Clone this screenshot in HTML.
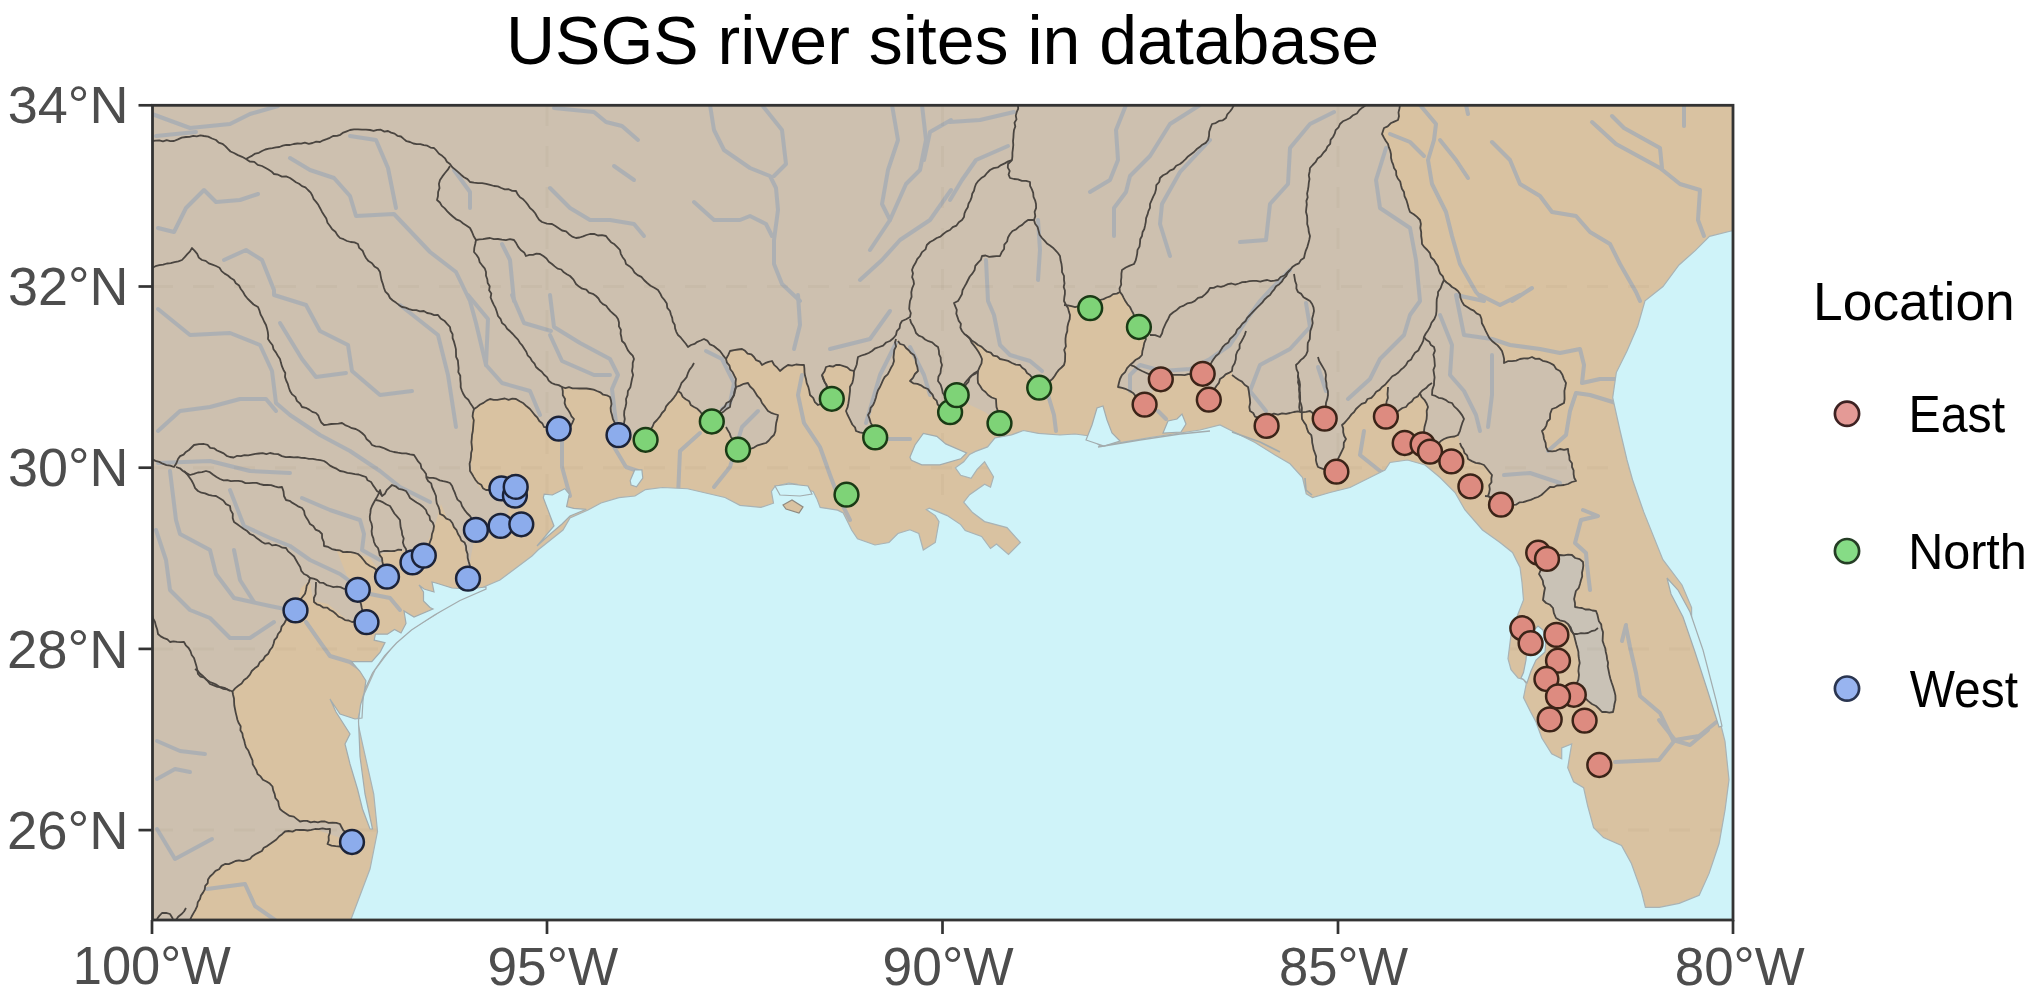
<!DOCTYPE html>
<html><head><meta charset="utf-8">
<style>
html,body{margin:0;padding:0;background:#fff;}
body{width:2042px;height:1004px;overflow:hidden;}
svg{display:block;}
text{font-family:"Liberation Sans",sans-serif;}
</style></head>
<body>
<svg width="2042" height="1004" viewBox="0 0 2042 1004">
<defs><clipPath id="pc"><rect x="152" y="105" width="1581" height="815"/></clipPath></defs>
<rect x="0" y="0" width="2042" height="1004" fill="#fff"/>
<text x="511" y="63" font-size="68" fill="#000" transform="translate(-5.00,1.20) scale(1.0000,1.0000)">USGS river sites in database</text>
<g clip-path="url(#pc)">
<rect x="152" y="105" width="1581" height="815" fill="#d9c2a1"/>
<path d="M150,104 L1400,104 L1400,108 L1398,120 L1384,128 L1382,134 L1388,144 L1394,168 L1404,192 L1410,212 L1420,220 L1422,244 L1434,260 L1444,280 L1460,294 L1464,305 L1480,315 L1484,327 L1492,341 L1502,351 L1504,363 L1520,359 L1532,357 L1550,363 L1560,371 L1566,383 L1564,403 L1552,409 L1550,419 L1542,431 L1544,439 L1548,451 L1568,449 L1572,467 L1576,481 L1564,485 L1550,487 L1538,497 L1512,505 L1485,496 L1501,505 L1488,496 L1492,475 L1484,465 L1468,459 L1460,443 L1458,435 L1444,439 L1430,451.6 L1422.6,444.3 L1424,431 L1428,407 L1420,393 L1406,407 L1385.9,416.6 L1388,387 L1390,379 L1374,395 L1356,409 L1342,425 L1346,439 L1341,453 L1338,465 L1336.4,471.7 L1318,467 L1311,443 L1309,424 L1324.7,418.6 L1310,411 L1290,413 L1270,415 L1266.6,425.9 L1250,411 L1248,387 L1232,375 L1232,371 L1220,379 L1208.8,399.7 L1202.7,373.8 L1170,375 L1160.8,379.3 L1144.6,404.6 L1130,391 L1118,387 L1120,379 L1130,365 L1142,355 L1146,339 L1139,327 L1130,307 L1120,292 L1100,300 L1090,308 L1066,305 L1070,315 L1066,335 L1064,365 L1050,381 L1039,388 L1030,375 L1020,365 L1000,359 L978,345 L966,335 L970,339 L982,359 L978,371 L970,377 L957,395 L950,412 L940,407 L928,389 L910,381 L918,371 L914,355 L898,341 L896,339 L894,361 L880,387 L868,415 L875,437 L856,431 L846,411 L850,391 L854,371 L840,365 L826,367 L822,375 L831.8,398.8 L818,405 L810,395 L806,379 L804,365 L788,365 L780,371 L772,361 L762,365 L754,357 L742,349 L730,351 L726,359 L736,379 L736,387 L748,383 L762,403 L768,411 L778,415 L774,435 L766,443 L750,449 L738,449.7 L726,427 L711.8,421.5 L694,407 L678,391 L662,413 L654,423 L645.6,440 L618,435 L612,415 L610,397 L590,389 L562,387 L566,407 L574,419 L570,427 L558.7,428.7 L544,427 L530,409 L516,399 L490,399 L478.2,404.8 L471.9,416 L470.3,447.8 L471.9,476.5 L481.4,489.2 L501,488 L507,503.6 L508.5,511.6 L500.6,526 L476,530 L471,556 L468,578 L466,552 L460,536 L447,518 L441,504 L435,525 L428,541 L424,556 L412,562 L404,550 L379,554 L387,577 L376,566 L369,557 L336,549 L347,576 L358,590 L361,604 L366,622 L347,620 L328,604 L313,601 L310,580 L301,588 L295,611 L286,620 L278,634 L270,650 L258,666 L244,680 L233,691 L235,709 L245,744 L257,774 L272,786 L280,809 L300,821 L340,824 L352,842 L315,829 L285,831 L270,844 L250,859 L225,864 L210,876 L200,899 L190,921 L150,921 Z M957,395 L964.5,388 L972,375.5 L978,371 L978,383 L988,395 L996,399 L999.5,423 L985,412 L970,405 Z" fill="#cdc0af"/><path d="M1547,559 L1539,574 L1545,588 L1543,600 L1553,608 L1556,618 L1568,624 L1574,635 L1576.5,645 L1579,659 L1579,675 L1576.5,684 L1585,698 L1596,706 L1602,712 L1613,712 L1615.5,700 L1613,686.5 L1608.5,670 L1604,645 L1601.6,628 L1596,611 L1582,608 L1575,607 L1575,595 L1581,580 L1583,562 L1572,555 L1560,555 L1547,559 Z" fill="#c9c2b6"/>
<g fill="none" stroke="#a6adb5" stroke-width="4" stroke-linejoin="round" stroke-linecap="round" opacity="0.8"><path d="M152,114 L190,128 L230,124 L250,114 L278,106"/><path d="M156,136 L196,132"/><path d="M158,228 L174,232 L186,208 L204,190 L216,202 L240,200 L258,194"/><path d="M290,158 L310,170 L334,178 L350,196 L356,216 L394,214 L430,252 L456,272 L470,301 L476,323 L486,365 L502,383 L530,391 L540,415"/><path d="M350,136 L376,140 L388,168 L396,208"/><path d="M454,170 L470,192 L470,208"/><path d="M224,260 L246,250 L262,260 L274,290 L274,295 L306,305 L320,331 L348,345 L352,371 L380,395 L412,391"/><path d="M502,244 L510,260 L514,301"/><path d="M512,295 L524,323 L551,331"/><path d="M554,108 L594,112 L606,122 L622,126 L638,140"/><path d="M614,166 L634,180"/><path d="M550,188 L570,208 L590,220 L610,220 L634,224 L644,236"/><path d="M710,105 L714,130 L724,150 L750,168 L770,176 L776,188 L778,210 L774,240 L774,264 L782,284 L800,301"/><path d="M762,105 L782,130 L786,164 L774,176"/><path d="M694,202 L714,220 L740,220 L750,216 L766,224 L772,236"/><path d="M892,105 L898,140 L888,170 L882,204 L890,220 L870,250"/><path d="M922,105 L926,140 L920,170 L906,184 L890,220"/><path d="M951,120 L930,132 L924,160"/><path d="M951,190 L930,220 L900,240 L882,260 L860,280"/><path d="M950,122 L980,120 L1014,112"/><path d="M950,200 L962,180 L976,160 L1008,146"/><path d="M1126,105 L1116,130 L1118,160 L1110,180 L1090,192"/><path d="M1200,105 L1170,124 L1150,156 L1130,176 L1126,192 L1114,208 L1114,236"/><path d="M1210,140 L1180,172 L1162,204 L1160,224 L1170,256"/><path d="M1334,112 L1310,124 L1290,148 L1288,184 L1270,204 L1266,240 L1240,242"/><path d="M1038,220 L1040,250 L1038,280"/><path d="M986,260 L988,301 L994,315 L1000,345 L1010,355 L1030,361 L1042,371"/><path d="M1290,270 L1270,290 L1260,301 L1250,315 L1230,345 L1210,359 L1190,369 L1162,371 L1140,365 L1130,375 L1130,391"/><path d="M1420,105 L1436,124 L1434,140 L1428,160 L1432,184 L1446,212 L1452,236 L1460,264 L1476,292 L1484,301 L1456,295 L1460,315 L1464,335 L1492,339 L1510,345 L1540,349 L1560,353 L1580,349 L1584,365 L1582,383 L1600,379 L1616,379"/><path d="M1390,134 L1410,142 L1424,156"/><path d="M1440,140 L1456,160 L1468,178"/><path d="M1466,105 L1468,114"/><path d="M1492,142 L1510,160 L1520,184 L1540,196 L1552,212 L1576,216 L1590,232 L1610,244 L1620,264 L1636,292 L1640,301"/><path d="M1592,122 L1616,144 L1660,168 L1680,184 L1700,190 L1698,220 L1704,236"/><path d="M1612,116 L1624,128 L1660,148 L1662,168"/><path d="M1684,105 L1684,126"/><path d="M1532,288 L1512,301"/><path d="M1386,148 L1376,180 L1380,208 L1410,228 L1416,260 L1420,301 L1410,315 L1404,335 L1380,359 L1370,379 L1348,399"/><path d="M158,309 L190,335 L230,333 L260,345 L272,371 L276,403 L290,415 L320,435 L350,451 L380,471 L400,487 L430,502"/><path d="M158,431 L180,411 L210,407 L240,399 L266,399 L276,411"/><path d="M280,323 L302,359 L316,377 L346,373"/><path d="M400,305 L438,335 L448,375 L456,427"/><path d="M468,295 L488,319 L486,365"/><path d="M158,463 L210,461 L250,471 L290,473"/><path d="M170,471 L176,520 L180,534 L210,550 L216,574 L234,598 L270,606 L290,610"/><path d="M156,530 L166,560 L170,590 L190,610 L210,618 L230,638 L250,638 L274,622"/><path d="M234,550 L240,580 L254,602"/><path d="M230,490 L244,526 L270,538 L290,546 L310,560 L340,574 L355,585"/><path d="M302,498 L330,510 L360,520 L364,534 L362,550 L380,560"/><path d="M306,622 L320,642 L330,656 L350,662 L362,670"/><path d="M370,594 L390,598 L400,610"/><path d="M550,295 L554,327 L580,343 L610,359 L618,375 L612,389 L616,423"/><path d="M550,335 L562,361 L594,375 L610,375"/><path d="M562,435 L562,467 L570,496"/><path d="M614,447 L626,467 L638,471"/><path d="M706,351 L722,359 L734,383 L730,403 L722,409"/><path d="M700,433 L680,451 L678,496"/><path d="M758,411 L742,427 L730,467 L714,487"/><path d="M798,295 L800,325 L794,349"/><path d="M890,311 L870,339 L830,349"/><path d="M802,375 L798,395 L804,423 L820,447 L830,475 L838,496 L850,520"/><path d="M896,343 L880,375 L866,423"/><path d="M888,439 L910,439"/><path d="M910,347 L924,375 L930,395"/><path d="M1048,395 L1054,415 L1056,431"/><path d="M1306,303 L1310,327 L1290,349 L1260,365 L1250,391 L1266,411"/><path d="M1318,367 L1326,391"/><path d="M1158,411 L1166,419"/><path d="M1440,315 L1452,345 L1450,375 L1464,391 L1476,415 L1480,431"/><path d="M1492,355 L1492,395 L1488,427"/><path d="M1504,475 L1530,473 L1560,483"/><path d="M1364,431 L1360,455 L1380,471 L1388,475"/><path d="M1480,295 L1500,305 L1520,295"/><path d="M1616,403 L1590,395 L1576,393 L1570,411 L1566,435 L1548,451"/><path d="M157,741 L180,751 L205,754"/><path d="M157,779 L175,769 L190,772"/><path d="M157,829 L175,859 L212,839"/><path d="M207,889 L245,884 L255,906 L275,920"/><path d="M1583,510 L1598,516 L1581,520 L1575,543 L1586,553 L1587,565 L1590,590"/><path d="M1626,627 L1630,647 L1636,673 L1640,696 L1660,713 L1673,740 L1690,745 L1708,730"/><path d="M1615,762 L1659,760 L1675,740 L1699,736 L1719,720"/><path d="M1675,740 L1659,720"/><path d="M1622,641 L1626,625"/></g>
<g fill="none" stroke="#4a4540" stroke-width="1.8" stroke-linejoin="round"><path d="M152,141 L155.7,140.7 L159.3,140.4 L163,141.3 L166.7,140.2 L170.3,141.1 L174,141 L177.9,139.4 L181.7,137.6 L186,137 L189.6,136.8 L193.2,135.8 L196.8,136.3 L200.4,135.4 L204,136 L208.2,136.6 L212,138.5 L216,140 L218.7,142.6 L222.4,143.8 L225.3,146.1 L227.9,148.9 L230.5,151.5 L234,153 L237.9,155.1 L242.1,156.8 L246,159 L249.7,161.5 L254.3,161.8 L257.7,164.8 L262,166 L265.2,167.7 L268.4,169.5 L271.4,171.4 L274,174 L278.1,174.7 L281.9,176.6 L286.1,176.4 L290,178 L292.9,180.1 L295.9,182.2 L299.1,183.8 L302,186.1 L305.4,187.3 L308,190 L310.7,192.6 L312.4,195.7 L313.7,199.2 L316.1,201.9 L318.3,204.8 L320,208 L321.9,211.7 L324.1,215.2 L326.3,218.6 L327.5,222.7 L330,226 L332.2,229.2 L335.4,231.7 L337.4,235.1 L340,238 L343.6,239.2 L347,241 L350.7,242 L354.5,242.4 L358,244 L359.2,247.9 L362.6,250.7 L364.1,254.4 L366,258 L368.5,261.1 L372,263.2 L374.4,266.4 L377.8,268.6 L380,272 L380.7,276.1 L381.5,280.1 L382.9,284 L384,288 L385.4,291.7 L388.3,294.5 L390,298 L392.8,300.5 L395.9,302.6 L398.9,304.9 L402,307 L405.6,307.7 L409.1,309.2 L412.6,310.2 L416.4,310.2 L419.9,311.3 L423.8,311 L427.1,313 L430.7,313.7 L434.2,315.1 L438,315 L440.6,318.4 L444.3,320.7 L447.1,323.9 L450,327 L450.6,330.8 L452.6,334.2 L452.6,338.1 L454,341.7 L455,345.4 L455.9,349.1 L456,353 L456.1,356.9 L457.9,360.5 L458.2,364.3 L458.6,368.2 L458.3,372.1 L460.3,375.7 L460.3,379.6 L460.7,383.4 L460.7,387.3 L462,391 L463.5,394.3 L465.5,397.4 L468.3,399.8 L470.1,402.9 L472.2,405.9 L474,409 L473,412.7 L472.6,416.4 L473.8,420.2 L473.4,423.9 L473.1,427.6 L472.8,431.3 L472,435 L471.8,438.6 L471.4,442.2 L471.8,445.8 L472.1,449.4 L471.1,453 L471,456.6 L470.5,460.2 L469.6,463.8 L469.9,467.4 L470,471 L472,474 L473.8,477.1 L475.7,480.2 L478,483 L481.2,484.7 L482.9,488.2 L486,490 L489.8,490 L493.6,489.7 L497.3,489 L501,488"/><path d="M246,159 L249.1,157.2 L252.3,155.6 L255.3,153.6 L258.9,152.8 L262,151 L265.3,149.5 L268.8,148.7 L272.4,148.2 L275.9,147.4 L279.4,147 L282.8,145.7 L286.3,144.9 L290,145 L293.7,144 L297.4,143.5 L301.2,143.6 L304.9,142.7 L308.8,143.8 L312.5,143 L316.2,141.7 L320,142 L323.2,140.3 L326.6,139.1 L329.9,137.8 L333.1,136 L336.9,135.9 L340.3,134.8 L343.3,132.6 L346.7,131.3 L350,130 L354,129.3 L358,129.3 L362,129.7 L366,129.6 L370,130 L373.6,130.8 L377.2,129.8 L380.8,129.7 L384.4,131.6 L388,131 L391.1,132.6 L394.6,133.6 L397.4,135.8 L401,136.5 L403.7,138.9 L406.5,141.2 L410,142 L413.3,143.5 L416.8,144.1 L420.4,144.2 L423.8,145.2 L427.3,145.7 L430.5,147.6 L434,148 L436.6,150.7 L439,153.7 L442.2,155.8 L445,158.3 L446.9,161.7 L450,164 L452.3,167.2 L455.3,169.6 L458.2,172.1 L461,174.7 L464,177.2 L467.5,179.1 L470,182 L474,182.7 L478,183.1 L482.1,183.2 L486.1,183.8 L490.1,184.9 L494,186 L497.8,186.4 L501.3,188 L504.8,189.3 L508.7,189.2 L512.2,190.9 L516,191 L517.7,194.4 L520,197.2 L523.2,199.3 L525.7,202 L528,204.9 L530,208 L532.8,210.4 L535.2,213.3 L537,216.5 L539.1,219.7 L542,222 L546.9,223.6 L552,224 L555.4,226 L558.7,228.2 L562,230.5 L566.1,231.4 L569,234.2 L572.2,236.6 L576,238 L579.6,237.5 L583.1,236.4 L586.5,235 L590,234 L594.1,233.9 L597.9,235.5 L602,235.2 L606,236 L608.4,239.2 L611,242.2 L614.5,244.3 L617.3,247.1 L620,250 L620.8,253.8 L622.6,257.2 L625,260.3 L626,264 L629.4,266.2 L632.4,268.9 L634.5,272.5 L637.6,275.1 L641.4,276.9 L644,280 L647.2,283 L650.5,285.7 L654.3,287.7 L658,290 L660.2,293.4 L661.9,297 L664.6,300.2 L666.8,303.6 L667.3,307.9 L670,311 L670.9,314.5 L672.2,317.9 L672.7,321.5 L674.7,324.7 L675.1,328.4 L676.3,331.8 L678,335 L680.9,337.7 L683.3,340.7 L685.8,343.8 L688,347 L691,345 L694.5,343.9 L697.4,341.8 L700.7,340.5 L704,339 L707.6,340.9 L710,344.4 L713.8,346 L716.8,348.5 L720,351 L722.9,355.1 L726,359 L727,362.7 L729.5,365.6 L730.3,369.3 L732.7,372.3 L734.3,375.7 L736,379 L735.5,383 L735.9,387.1 L734.6,391 L734,395 L732,398.2 L729.9,401.2 L726.4,403 L724.8,406.6 L722,409 L719.5,412 L716.7,414.7 L714.4,417.9 L712,421"/><path d="M450,166 L447.8,169.7 L445,173 L442.4,176.4 L440,180 L438.9,183.9 L439.5,188.1 L438.1,192 L438,196.1 L437,200 L439.9,202.5 L441.8,205.9 L444.8,208.4 L447.3,211.3 L450,214 L453.1,216.7 L456.2,219.3 L460.1,220.9 L463.2,223.5 L466.7,225.7 L470,228 L472,232 L473.7,236.2 L476,240 L479.5,239.4 L483,239.1 L486.5,238.5 L490,238 L493.9,239.1 L498,239 L501.9,239.7 L505.9,240.1 L510,239.2 L514,240 L516.3,243.3 L518.2,246.9 L520.7,250 L524.1,252.4 L526,256 L529.4,254.8 L533,254.9 L536.4,253.7 L540,254 L543.3,256.1 L546.5,258.4 L548.8,261.7 L552,264 L554.7,266.4 L557.6,268.6 L561.3,269.5 L563.8,272.3 L566.8,274.2 L570,276 L573.5,279.6 L576,284 L579,286.6 L582.2,288.7 L586.3,289.6 L588.9,292.7 L592.8,293.8 L596,296 L598.5,298.5 L600.3,301.7 L602.9,304.1 L606.2,305.8 L608.3,308.7 L610.6,311.4 L613.3,313.7 L616,316.1 L618,319 L619,322.6 L618.9,326.4 L620.9,329.8 L620.6,333.7 L621.4,337.3 L622,341 L624.7,343.5 L626.3,346.8 L627.8,350.1 L630,353 L632.7,355.6 L634,359 L632.7,362.9 L632.7,366.9 L632,370.9 L633.1,375.1 L632,379 L631.2,383.1 L630.4,387.2 L627.9,390.9 L627.6,395.1 L626,399 L626.3,403.1 L625.5,407 L624.3,410.9 L624.1,415 L624.8,419 L624,423 L622.6,427.3 L619.3,430.7 L618,435"/><path d="M476,240 L475.2,244 L474.3,247.9 L474,252 L476.6,255 L478.7,258.3 L479.7,262.2 L482.1,265.3 L484.7,268.3 L486,272 L486,275.8 L487.3,279.3 L487.7,283 L489.7,286.3 L489.1,290.3 L491.3,293.6 L490.6,297.5 L492,301 L493.7,304.6 L495.6,308.2 L496.9,312 L498,316 L500.7,319.2 L502,323 L505.1,325.4 L507.1,328.7 L510.1,331.3 L512.8,334 L515.3,336.9 L518,339.6 L520,343 L522.4,345.7 L524.3,348.8 L526.3,351.8 L527.6,355.3 L530.3,357.8 L532,361 L534.5,363.7 L536,367 L538.8,369.5 L541.8,371.7 L544.1,374.7 L547,377.1 L548.7,380.6 L551.6,383 L555,384.4 L558.7,385.1 L562,387 L562.8,391 L562.8,395.2 L565.1,398.9 L564.6,403.1 L566,407 L568.1,409.9 L570,413 L571.5,416.3 L574,419 L572.2,423.1 L570,427 L566,427.7 L561.9,428 L558,429"/><path d="M562,387 L565.4,388.1 L569,387.2 L572.5,388.3 L576,388.4 L579.5,388.5 L583,388.3 L586.5,388.5 L590,389 L593.6,389.6 L596.9,391 L600.3,392.3 L603.2,394.7 L606.8,395.3 L610,397 L611,400.5 L611.5,404.1 L610.6,407.9 L610.9,411.5 L612,415 L612.9,419.1 L614.8,422.9 L616,426.9 L617.2,430.9 L618,435"/><path d="M474,409 L477.2,406.9 L480.1,404.5 L483.5,402.9 L486.6,400.6 L490,399 L493.7,399.8 L497.4,399.9 L501.1,399.1 L504.9,398.5 L508.6,399.8 L512.3,398.7 L516,399 L519.7,401.3 L523.5,403.3 L526.6,406.3 L530,409 L532.4,412 L534.7,415 L537.4,417.7 L539.3,421 L542.4,423.5 L544,427 L547.6,427.1 L551.1,427.3 L554.5,428.3 L558,429"/><path d="M152,268 L155.5,266.2 L159.3,265.2 L163.2,264.7 L166.9,263.5 L170.8,263.1 L174.5,262.1 L178.4,261.4 L182,260 L184.7,257.2 L187.3,254.2 L190,251.4 L192,248 L194.7,250.9 L197.2,253.8 L198.8,257.6 L202,260 L205.7,260.9 L208.8,263.4 L212.4,264.7 L216,266 L219.5,267.7 L221.6,271.1 L224.6,273.6 L227.9,275.5 L230.7,278 L234,280 L235.8,283.3 L239.1,285.6 L240.8,289 L243.1,292 L244.9,295.4 L247.3,298.3 L250,301 L253.6,304.5 L258,307 L259.5,310.7 L260.6,314.5 L262.5,317.9 L264.1,321.5 L266,325 L267,328.4 L267.8,331.9 L268.2,335.4 L268,339 L270.2,342.2 L272.6,345.3 L273.5,349.3 L275.9,352.4 L277.8,355.8 L280,359 L280.9,362.6 L281.9,366.2 L283.4,369.7 L285.3,373 L285,376.9 L286.2,380.5 L287.8,383.9 L288.8,387.5 L290,391 L292.2,394.4 L295.4,396.9 L296.9,400.9 L300,403.5 L302,407 L305.8,407.8 L309.2,409.6 L312.3,411.9 L316,413 L318.4,415.7 L319.6,419.2 L321.3,422.5 L324,425 L327.6,424.6 L331.2,424 L334.8,423.8 L338.4,423.7 L342,423 L345.1,425.1 L348.6,426.5 L351.9,428.2 L355.7,429 L359,430.8 L362,433 L364.8,435.7 L366.7,439.3 L369.8,441.8 L372,445 L375.6,446.3 L379.5,446.6 L383.1,447.8 L386.5,449.4 L390,451 L393.9,452 L397.9,452.7 L401.9,453.3 L406.1,453.3 L410,454.4 L414,455 L416.1,458.2 L418.1,461.4 L420.6,464.2 L421.4,468.2 L424,471 L426.1,474 L426.4,477.8 L428.1,481 L431.2,483.4 L432,487 L434.1,491.5 L436,496 L436.2,499.7 L436.8,503.4 L438.5,506.8 L439.6,510.3 L440,514 L443.6,515.6 L446.3,518.7 L450,520 L452.5,523.2 L453.9,527.1 L456.6,530.2 L458,534 L460,537 L461.3,540.5 L464.6,542.6 L466,546 L466.2,550.1 L467.6,554 L467.7,558.1 L468.8,562.1 L470,566 L469.8,570.1 L468,573.9 L468,578"/><path d="M426,477 L429.4,477.8 L433.1,477.9 L436.5,478.7 L439.7,480.4 L443.2,481.2 L446.7,481.8 L450,483 L452.1,486 L453.3,489.4 L454.8,492.6 L456,496 L457.5,499.6 L460.8,502.2 L462,506 L464.3,509.6 L466.9,513 L470,516 L472.1,519.2 L472.3,523.3 L474.1,526.7 L476,530"/><path d="M382,496 L385,493.7 L386.7,490.2 L389.3,487.6 L392,485 L395.6,486.3 L398.6,488.8 L402.4,489.6 L406,491 L408.2,494.4 L410,498 L413.3,500.3 L416.6,502.5 L420.1,504.5 L423.2,507 L426,510 L427.1,513.5 L429.5,516.2 L430.1,520 L432.8,522.6 L434,526 L433.4,530.1 L432,534 L431.5,538.1 L430,542 L428.7,545.6 L426.2,548.7 L424.9,552.2 L424,556"/><path d="M152,459 L155.5,460.9 L159.3,461.9 L162.7,463.7 L166.4,465.1 L170.3,465.7 L174,467 L176.4,463.2 L178,459 L180.1,456.1 L183.6,454.6 L185.9,451.9 L189,450 L191.5,447.5 L194,445 L199,444.1 L204,444 L207.6,444.9 L210.2,447.9 L214.1,448.3 L217,450.5 L220.4,451.9 L223.7,453.4 L226.6,455.8 L230,457 L233.7,457.5 L237.2,455.8 L240.9,456.2 L244.5,455.2 L248.2,455.3 L251.8,454.6 L255.4,453.9 L259,453.5 L262.7,453.2 L266.4,454.1 L270,453 L274,453.8 L278.1,454.1 L281.9,456.1 L285.8,457.1 L290,457 L293.8,457.4 L297.6,457.2 L301.4,457.8 L305.2,458 L308.9,458.9 L312.8,458.9 L316.5,459.6 L320.3,460.1 L324,461 L327.1,463.1 L330,465.6 L333.4,467.4 L336.9,468.9 L340,471 L343.7,471.7 L347.4,472.8 L351.2,473.4 L354.9,474.1 L358.7,474.5 L362.4,475.8 L366,477 L367.6,480.3 L371.1,482 L372.9,485.1 L375,488 L376.9,491 L380.1,493 L382,496 L380,490 L378.8,493.4 L377.2,496.6 L375.4,499.7 L373.7,502.8 L372,506 L370.7,509.4 L370.4,512.9 L369.8,516.4 L370,520 L371.5,523.5 L372.2,527.2 L371.6,531.1 L372,534.8 L373.4,538.3 L374,542 L375.5,545.3 L378,548 L379,551.5 L379.7,555.1 L382,558 L382.4,561.9 L383.4,565.8 L384.2,569.6 L386.4,573.1 L387,577"/><path d="M376,500 L379.8,500.9 L383.2,502.4 L386.5,504.5 L390,506 L392.2,509.7 L394.4,513.5 L397.2,516.7 L400,520 L400.3,523.8 L400.7,527.5 L401.8,531.1 L402.2,534.9 L403.7,538.4 L402.9,542.4 L404,546 L406,549 L406.5,552.7 L408.6,555.7 L410.7,558.6 L412,562"/><path d="M380,552 L383.6,551 L387.3,550.9 L391,551.2 L394.7,551 L398.3,549.6 L402,550"/><path d="M176,467 L179.9,468.3 L183,471 L186.4,473.1 L190,475 L194,473.8 L197.9,472.5 L202,472.2 L206,471 L209.9,472.2 L213.2,474.7 L216.5,476.9 L220,479 L223.5,480.3 L227.3,480.2 L230.9,481.1 L234.6,480.8 L238.3,480.9 L241.9,481.4 L245.4,483.1 L249.1,483.1 L252.9,482.9 L256.6,482.9 L260.1,484.2 L263.7,485 L267.4,485 L271.1,485.2 L274.7,486.4 L278.3,487.3 L282,487 L283.5,491.4 L284,496 L286,500 L289.6,500.8 L292.5,502.9 L295.7,504.7 L298.7,506.7 L302,508 L304.1,511 L304.7,514.6 L306.4,517.8 L308.4,520.8 L310,524 L313.3,526.1 L315.5,529.6 L319.2,531.2 L322,534 L322.1,538.1 L323.8,541.9 L324,546 L328.2,546.9 L331.9,549.1 L336,550 L339.7,550.3 L343.2,552.1 L347,552 L350.8,552.1 L354.4,552.8 L358,554 L361.1,556.9 L363.8,560.2 L366.4,563.6 L370,566 L373.7,567.7 L376.9,570.2 L380.5,572.2 L383.1,575.5 L387,577"/><path d="M184,471 L186.9,474 L189.3,477.2 L191.6,480.5 L193.5,484.2 L195.1,488.1 L198,491 L201.4,492.7 L205.1,493.4 L208.6,494.9 L212.2,495.7 L216,496 L219.7,498.2 L223.3,500.5 L226,504.1 L230,506 L230.6,510.1 L232.8,513.8 L232.7,518.1 L234,522 L237.3,524.2 L240.5,526.6 L243.8,529 L247.2,531.1 L250,534 L253.5,535.3 L256.2,537.7 L259.1,539.8 L262,542 L265.2,543.7 L269,543.1 L272.1,545.4 L275.8,544.9 L279.2,546 L282.4,547.7 L286,548 L288.1,551.4 L291.1,553.9 L294.1,556.5 L296,560 L298,563.5 L300.2,566.9 L301.3,570.9 L304,574 L307.3,575.5 L310,578 L308.9,582.1 L306.7,585.8 L306,590 L305,593.7 L302.6,596.7 L300.3,599.7 L298.6,603.1 L298,607.1 L295.5,610"/><path d="M310,578 L313.6,578.6 L317,579.9 L319.7,582.7 L323.5,582.9 L326.5,585.1 L330,586 L333.4,587.2 L337,586.7 L340.5,587.1 L343.8,588.8 L347.3,588.7 L350.9,588.6 L354.3,589.9 L357.8,590"/><path d="M316,582 L315.9,586 L315.6,590 L315.7,594.1 L313.9,598 L314,602 L316.9,604.3 L320.3,605.4 L323.2,607.5 L327.2,607.6 L330,610 L333.3,611.6 L336,614 L338.5,616.7 L342,618 L345,620.1 L348.7,620.5 L352,622 L355.6,621.6 L359.2,621.9 L362.9,622 L366.5,622"/><path d="M358,590 L358,593.7 L360.1,596.9 L359.7,600.6 L361,604 L361.7,607.7 L362.6,611.4 L363.8,614.9 L365.2,618.5 L366.5,622"/><path d="M295,612 L292.2,614.9 L289.2,617.6 L286,620 L284.2,623.6 L281.6,626.7 L280.7,630.9 L278,634 L276.9,637.4 L274.4,640.2 L273.6,643.8 L272.3,647.2 L270,650 L268.3,653.7 L265.1,656.3 L263.1,659.8 L259.7,662.3 L258,666 L254.7,668.3 L251.8,671 L249.9,674.7 L247.3,677.7 L244,680 L241.6,683.4 L238.3,685.8 L235.1,688.4 L232.5,691.5 L233.1,695 L234,698.4 L234.1,702 L234.3,705.5 L235,709 L235.7,712.6 L236.6,716.1 L237.4,719.7 L238.7,723.1 L240.7,726.3 L240.4,730.2 L242.4,733.4 L242.9,737 L244.2,740.4 L245,744 L246,747.5 L248.3,750.5 L249.6,753.8 L251,757.2 L252.5,760.4 L252.7,764.3 L254.6,767.4 L256.4,770.5 L257.5,774 L260.6,776.4 L262.9,779.7 L266.5,781.5 L269.8,783.6 L272.5,786.5 L273.2,790.4 L274.7,794.1 L275.4,798 L278.2,801.3 L278.8,805.2 L280,809 L283,811.6 L286.3,813.7 L289.6,815.9 L293.8,816.6 L296.9,819.1 L300,821.5 L303.6,820.8 L307.1,820.9 L310.7,822.4 L314.3,821.6 L317.9,822.3 L321.4,821.3 L325,821.5 L328.6,822.8 L332.5,822.7 L336.3,822.9 L340,824 L341.6,827.3 L343.3,830.4 L346.6,832.6 L347.9,836.1 L349.8,839.1 L352,842"/><path d="M195,669 L197.9,671.1 L200.2,673.8 L203,676 L205.4,678.6 L207.8,681.2 L210,684 L213.7,685.4 L217.4,686.8 L221.4,687.2 L225.3,688.2 L228.8,690 L232.5,691.5"/><path d="M152,614 L152.9,618.1 L154.9,621.8 L155.9,625.9 L157.3,629.8 L158,634 L160.7,636.4 L164,638.1 L167.4,639.3 L170,642 L173.5,641.3 L177,641.8 L180.5,642.1 L184,642 L185.8,645.3 L188.6,648 L190.5,651.3 L191.7,655 L194,658 L195.2,662 L196.4,665.9 L197.3,669.9 L198,674 L200.5,676.7 L204.2,677.7 L206.9,680.1 L210,682 L213.4,683.3 L216.7,684.9 L219.7,687.1 L223,688.8 L226.8,689.3 L230,691"/><path d="M352,842 L348.2,844 L343.9,844.6 L340,846.5 L335.7,846.2 L331.5,845.7 L327.5,844 L328.8,840.4 L328.6,836.5 L329.9,832.8 L330,829 L326.2,829.2 L322.5,828.3 L318.8,829.1 L315,829 L311.3,829.9 L307.6,830.5 L303.7,829.8 L300,830 L296.2,829.8 L292.6,831.6 L288.7,831 L285,831.5 L282.1,834.2 L279,836.5 L276.4,839.5 L273.2,841.8 L270,844 L267.1,846.1 L263.8,847.7 L261.9,851 L258.6,852.6 L255.4,854.3 L252.4,856.2 L250,859 L246.5,860.2 L243,861.1 L239.1,860.4 L235.5,861 L232.1,862.6 L228.7,864.1 L225,864 L221.5,865.9 L219.1,869.2 L215.5,870.9 L212.9,873.8 L210,876.5 L208,879.5 L207.7,883.2 L205.2,885.9 L204.7,889.6 L203,892.6 L200.9,895.5 L200,899 L197.8,902.2 L197.2,906.2 L195.5,909.7 L193.5,913.1 L191.6,916.5 L190,920"/><path d="M157,919 L159.3,915.9 L162,913 L166.1,912.8 L170,914 L173,919"/><path d="M176,920 L178.2,916.7 L181.3,914.3 L184,911.5 L186,908"/><path d="M1018,105 L1018.2,108.7 L1016.7,112.1 L1015.8,115.6 L1016.5,119.4 L1014.5,122.8 L1015.3,126.5 L1014,130 L1013.6,133.7 L1013.4,137.5 L1013,141.2 L1013.3,145 L1012.9,148.8 L1012.4,152.5 L1012.4,156.3 L1012,160 L1008.2,161.4 L1004.7,163.4 L1001,165.1 L997.7,167.4 L993.6,168.1 L990,170 L987.2,172.8 L984.7,175.9 L981.3,178.1 L978.4,180.8 L976,184 L974.8,187.3 L974,190.8 L972.2,193.8 L971.6,197.3 L970.3,200.6 L968.5,203.7 L967.8,207.2 L965.9,210.2 L964.5,213.4 L964,217 L962,220 L958.8,222.3 L956.5,225.6 L952.7,227.2 L950,230 L946.4,231.6 L943.3,234 L940.4,236.7 L936.7,238 L933.4,240.2 L930,242 L926.8,245 L925.5,249.4 L922,252.1 L920,256 L917.2,259.1 L915.6,262.8 L913.5,266.2 L912,270 L913,273.4 L912.1,277.1 L913.5,280.5 L914,284 L912.2,288.1 L911.3,292.3 L911.6,296.9 L910,301 L909.5,305 L909.2,309 L910.8,313 L910,317 L906.1,319.2 L902,321 L900.1,324.3 L899.6,328.2 L896.8,331.2 L896,335 L893.3,338.3 L890,341 L886.1,342.5 L883.1,345.6 L879.2,347 L875.2,348.3 L872,351 L868.7,353 L865.2,354.4 L861.5,355.5 L858,357 L857.3,360.6 L856.8,364.2 L855.6,367.7 L854,371 L850.3,370.1 L847.3,367.3 L843.6,366.2 L840,365 L836.4,364.8 L833.1,366.6 L829.4,366 L826,367 L824.6,371.3 L822,375 L823.3,378.4 L824.6,381.9 L826.4,385.1 L827,388.9 L828.9,392 L830.3,395.5 L831.8,398.8"/><path d="M1012,160 L1008,164 L1007.8,167.6 L1009.7,170.9 L1008.6,174.6 L1010,178 L1014,179 L1018,179.4 L1021.9,180.9 L1026.1,180.8 L1030,182 L1030.1,185.9 L1031.9,189.4 L1033.2,192.9 L1033.5,196.8 L1035.1,200.3 L1036,204 L1036.1,208.1 L1034.6,211.9 L1035.3,216.1 L1034,220 L1035.1,223.8 L1037.6,227 L1038.6,230.9 L1039.6,234.8 L1042,238 L1044.5,240.7 L1046.9,243.4 L1050,245.5 L1052.9,247.7 L1055.5,250.3 L1057.9,253 L1060,256 L1060.5,260 L1061.5,264 L1062,268 L1062,272.1 L1064,275.9 L1064,280 L1064.5,283.5 L1063.7,287 L1064.9,290.5 L1064.9,294 L1064.3,297.5 L1064,301 L1066,305 L1068,308.1 L1068.9,311.6 L1070,315 L1069.7,319.1 L1068.3,323 L1067.4,327 L1067.3,331.1 L1066,335 L1065.5,338.7 L1065.5,342.5 L1065.9,346.3 L1064.2,349.9 L1065.2,353.8 L1065.1,357.5 L1065,361.3 L1064,365 L1061.5,367.5 L1058.8,369.9 L1056.6,372.7 L1054.8,375.8 L1052.7,378.6 L1050,381 L1046.8,384.1 L1042.5,385.4 L1039,388"/><path d="M1034,220 L1028,220 L1024.9,222.2 L1022.2,224.9 L1018.8,226.8 L1016.1,229.4 L1012.5,231 L1010,234 L1008,237.5 L1007.1,241.5 L1004.3,244.7 L1004.1,249 L1001.6,252.3 L1000,256 L996.4,256.2 L992.8,256.5 L989.2,256.8 L985.6,255.5 L982,256 L980.8,259.9 L977.9,262.8 L975.3,265.9 L974.6,270 L972.5,273.4 L969.8,276.5 L968,280 L966.3,283.5 L964.4,286.9 L962.5,290.3 L961.9,294.3 L960,297.6 L958,301 L954,303 L955.3,306.4 L956.8,309.8 L956.3,313.7 L957.5,317.1 L958.6,320.6 L960.9,323.8 L960.4,327.7 L962,331 L964.4,334 L967.4,336.3 L970,339 L971.6,342.6 L974.1,345.6 L976.4,348.7 L978.6,352 L980.4,355.4 L982,359 L981.5,363.3 L979.6,367.1 L978,371 L973.7,373.6 L970,377 L967.5,379.8 L965.2,382.6 L963.2,385.8 L961.7,389.2 L959.1,391.9 L957,395"/><path d="M966,335 L969.1,337.4 L971.7,340.4 L975,342.5 L978,345 L981.4,346.6 L984.1,349.2 L987,351.7 L990.8,352.6 L993.3,355.6 L997.3,356.3 L1000,359 L1004.1,359.8 L1008.1,360.9 L1011.9,363 L1015.8,364.6 L1020,365 L1022.2,367.8 L1025.2,369.8 L1027,373 L1030,375 L1032.5,378.1 L1034.9,381.2 L1036.1,385.2 L1039,388"/><path d="M978,371 L977.8,375 L977.7,379 L978,383 L980.3,386.2 L982.3,389.6 L985.5,392 L988,395 L991.7,397.5 L996,399 L996.2,403.1 L996.5,407.1 L997.9,411 L997.9,415.1 L998.8,419 L999.5,423"/><path d="M957,395 L960.5,391.2 L964.5,388 L965.9,384.6 L968.4,381.9 L969.5,378.2 L972,375.5 L975.4,373.8 L978,371"/><path d="M854,371 L853.8,375.1 L853.2,379.2 L852.3,383.1 L850,386.8 L850,391 L849.5,395.1 L849,399.1 L848.4,403.2 L847.6,407.2 L846,411 L847.4,414.5 L849.1,417.8 L850.7,421.2 L852.3,424.5 L855,427.3 L856,431 L859.8,432.4 L863.7,433.2 L867.2,435.1 L871,436.3 L875,437"/><path d="M896,339 L895,342.6 L896.1,346.4 L894.3,349.9 L893.9,353.6 L893.5,357.3 L894,361 L892.9,364.6 L891,367.8 L889.4,371.1 L887.7,374.4 L884.7,377 L883,380.2 L881.5,383.6 L880,387 L878,390.3 L876.8,393.9 L875.9,397.7 L874.7,401.3 L873.2,404.8 L870.6,407.8 L870,411.7 L868,415 L869.5,418.6 L870.5,422.3 L872.3,425.7 L873.1,429.5 L874.2,433.2 L875,437"/><path d="M910,319 L911.1,322.7 L913.2,325.9 L914.8,329.4 L916,333 L918.7,335.7 L922.3,337 L925.1,339.5 L928.5,341.2 L932.2,342.3 L934.9,344.9 L938,347 L938.9,350.6 L939.1,354.3 L940.7,357.7 L940.8,361.5 L942,365 L940.9,369 L940.5,373.1 L938.4,376.8 L938,381 L940.7,384.7 L942,389 L942.8,393 L945.2,396.5 L946.8,400.2 L947.8,404.2 L948.2,408.3 L950,412"/><path d="M898,341 L900.1,344 L903.9,345 L906,348 L908.7,350.3 L911,353.1 L914,355 L915.6,358.9 L916,363 L917.3,366.9 L918,371 L914.9,374 L913,377.9 L910,381 L913.3,383.3 L917.4,383.8 L921,385.3 L924.3,387.7 L928,389 L930,392 L932.6,394.6 L933.8,398.1 L936.6,400.6 L937.6,404.3 L940,407 L943.2,409 L946.4,410.8 L950,412"/><path d="M726,359 L728.2,355.1 L730,351 L734,350.1 L738,349.5 L742,349 L745.1,350.8 L747.6,353.6 L751.4,354.4 L754,357 L756.2,360.2 L759.9,361.7 L762,365 L765.1,363.2 L768.5,361.9 L772,361 L774.1,364.8 L777.3,367.7 L780,371 L783.9,367.8 L788,365 L792,365.7 L796,364.5 L800,364.9 L804,365 L804.4,368.5 L804.5,372.1 L805,375.6 L806,379 L806.7,383.1 L808.3,386.9 L809.3,390.9 L810,395 L813.2,397.9 L814.9,402.1 L818,405 L821.6,403.7 L825.1,402.3 L828.1,399.8 L831.8,398.8"/><path d="M694,363 L692.1,366.5 L689.6,369.6 L687.9,373.2 L686.6,377.1 L684.1,380.2 L681.4,383.2 L680,387 L678,391 L676.1,394.4 L673.9,397.6 L671.4,400.6 L668.6,403.4 L666.1,406.4 L664.8,410.2 L662,413 L659.8,416.7 L657,420 L654,423 L652.6,426.5 L650.6,429.7 L649.5,433.4 L647.6,436.6 L645.6,439.8"/><path d="M678,391 L681.1,393.3 L682.7,396.9 L685.7,399.3 L689.2,401.2 L690.7,404.9 L694,407 L697.4,408.8 L700.1,411.5 L702.5,414.7 L705.7,416.8 L708.7,419 L712,421"/><path d="M736,387 L740,385.6 L743.8,383.8 L748,383 L750.1,386.5 L753.2,389.3 L755.4,392.7 L757.5,396.2 L760.4,399.2 L762,403 L765.1,406.9 L768,411 L771.1,412.8 L774.5,414 L778,415 L777.2,419 L776.2,423 L775.7,427 L775.4,431.1 L774,435 L771.2,437.5 L768.8,440.5 L766,443 L761.8,444.1 L757.7,445.3 L754,447.6 L750,449 L746,449.2 L742,449.2 L738,450"/><path d="M736,387 L734.9,391 L734.1,395.1 L732,398.9 L730.5,402.8 L730,407 L726.7,408.9 L723.8,411.4 L720.6,413.5 L717.8,416.1 L714.8,418.5 L712,421"/><path d="M726,427 L727.8,430.2 L729.7,433.4 L730.9,437 L733.5,439.8 L734.7,443.4 L735.8,446.9 L738,450"/><path d="M822,375 L823,378.5 L824.6,381.9 L826.6,385 L827.7,388.5 L829.1,392 L830.2,395.5 L831.8,398.8"/><path d="M1064,305 L1067.7,305.3 L1071.4,306.2 L1075.1,307.1 L1078.9,306.1 L1082.5,307.4 L1086.2,308.1 L1090,308"/><path d="M1234,105 L1232.2,108.4 L1230,111.5 L1227.3,114.3 L1226,118 L1222.8,120.3 L1219,120.9 L1215.7,123.1 L1212,124 L1210.5,127.9 L1209.2,131.8 L1209,136 L1208,140 L1205.7,142.9 L1202.3,144.7 L1199.6,147.1 L1196.5,149.3 L1194,152 L1191,154.2 L1188,156.4 L1185.6,159.2 L1182.9,161.7 L1180,164 L1176.2,165.7 L1173.6,169.1 L1169.8,170.7 L1166.8,173.5 L1163.1,175.3 L1160,178 L1159.2,182 L1156.3,185.1 L1156,189.2 L1155,193.1 L1153.2,196.7 L1151.6,200.4 L1150,204 L1150,207.8 L1148.4,211.1 L1147.5,214.7 L1146.1,218.1 L1145.8,221.8 L1145.1,225.4 L1144.3,229 L1142.5,232.3 L1142,236 L1140.2,239.3 L1140,243 L1139.5,246.6 L1137.5,249.9 L1137.2,253.6 L1136.5,257.1 L1135.6,260.7 L1134,264 L1129.8,265.6 L1125.8,267.5 L1122,270 L1121.4,273.6 L1121.4,277.3 L1120.9,281 L1121.2,284.7 L1119.5,288.3 L1120,292 L1122.2,294.9 L1123.8,298.1 L1125.5,301.3 L1127.5,304.3 L1130,307 L1131.6,310.3 L1133.3,313.5 L1134.4,317 L1136.6,320.1 L1137,323.9 L1139,327"/><path d="M1120,292 L1116.8,293.6 L1113.1,294.1 L1110.2,296.4 L1106.7,297.5 L1103.5,299.1 L1100,300 L1096.7,302.8 L1093.7,305.8 L1090,308"/><path d="M1150,335 L1155.2,335.1 L1160,337 L1162,333.5 L1163,329.5 L1164.6,325.8 L1166.3,322.2 L1168.3,318.7 L1170,315 L1173.3,312.2 L1176.8,309.9 L1180,307 L1183.8,305.6 L1187.2,303.4 L1191.3,302.7 L1194.9,300.9 L1198,297.9 L1202,297 L1205.1,294.4 L1207.9,291.5 L1210,288 L1213.7,287.9 L1217.1,286.2 L1220.9,286.8 L1224.4,285.8 L1227.9,284.1 L1231.5,283.5 L1235.3,284.6 L1238.8,283.5 L1242.3,282.2 L1246,282 L1249.5,281.1 L1253.1,280.9 L1256.6,280.9 L1260.3,281.6 L1263.8,280.6 L1267.3,280 L1270.9,281.2 L1274.5,280.7 L1278,280 L1280.6,277 L1284.5,275.5 L1287.1,272.6 L1290,270"/><path d="M1139,327 L1140.9,331.3 L1143.4,335.2 L1146,339 L1144.3,342.8 L1143.5,346.9 L1142.4,350.9 L1142,355 L1139.3,357.9 L1135.8,359.7 L1133,362.5 L1130,365 L1127.1,368.2 L1125.1,372.1 L1121.9,375.1 L1120,379 L1118.9,383 L1118,387 L1122.1,387.9 L1126.2,389.2 L1130,391 L1133.4,393.2 L1135.8,396.4 L1139.3,398.6 L1141.7,401.8 L1144.6,404.6"/><path d="M1130,365 L1134.3,366.4 L1138,369 L1142,371 L1145.8,372.7 L1149.5,374.4 L1153,376.6 L1157.4,376.8 L1160.8,379.3 L1165.7,377.7 L1170,375 L1173.6,374.8 L1177.3,374.8 L1180.9,374.9 L1184.6,375.1 L1188.2,374.1 L1191.8,374.1 L1195.5,374.9 L1199,373.2 L1202.7,373.8"/><path d="M1366,105 L1362.6,107.4 L1359.4,110 L1356.9,113.5 L1353.1,115.2 L1350,118 L1346.5,119.7 L1342.9,121.3 L1340,124 L1338.5,127.4 L1335.7,130.1 L1334.7,133.7 L1333,137 L1330.6,139.9 L1330.2,143.9 L1327.4,146.6 L1326,150 L1323.2,152.9 L1320.9,156.2 L1317.5,158.6 L1315.5,162.2 L1312.7,165 L1310,168 L1309.6,171.7 L1308.8,175.3 L1309.5,179 L1308.8,182.7 L1308.5,186.3 L1307.9,190 L1307.1,193.6 L1307.7,197.4 L1306.4,200.9 L1306.8,204.7 L1306.3,208.3 L1306,212 L1307.1,215.9 L1307.3,220 L1307.2,224.1 L1308.4,228 L1308.8,232.1 L1310,236 L1309.3,239.7 L1308.3,243.4 L1307.3,247.1 L1305.8,250.6 L1304.8,254.3 L1304,258 L1300.9,260 L1298.9,263.4 L1295.3,264.9 L1292.3,267.1 L1290,270 L1287.7,272.7 L1286.2,276.1 L1283.6,278.6 L1281.8,281.7 L1279.3,284.2 L1276.1,286.2 L1274.3,289.3 L1272,292 L1270,295 L1267.1,297.1 L1264.5,299.5 L1262.4,302.4 L1259.9,304.9 L1257.3,307.3 L1254.8,309.8 L1252.4,312.4 L1250,315 L1247.2,317.8 L1245.4,321.3 L1242.3,323.8 L1240.1,327 L1237.1,329.7 L1235.6,333.5 L1232.9,336.4 L1230,339 L1228.4,342.4 L1225.1,344.5 L1222.6,347.2 L1220.7,350.4 L1218.8,353.6 L1215.9,356 L1213.7,359 L1211.7,362.1 L1209.9,365.4 L1207.5,368.2 L1205.1,371 L1202.7,373.8"/><path d="M1246,331 L1244.9,334.6 L1243.3,337.9 L1241.5,341.2 L1239.6,344.4 L1239.6,348.5 L1237.3,351.5 L1236,355 L1235.8,359.2 L1234.7,363.2 L1232.5,366.9 L1232,371 L1228.9,372.9 L1225.6,374.4 L1223.1,377.1 L1220,379 L1218.9,382.9 L1216.4,386 L1214.3,389.3 L1211.8,392.4 L1209.9,395.8 L1208.8,399.7"/><path d="M1232,375 L1235.2,377.4 L1238.5,379.7 L1242,381.6 L1244.6,384.8 L1248,387 L1248.8,391 L1249.3,394.9 L1249.9,398.9 L1250.2,402.9 L1249.3,407 L1250,411 L1253.2,413 L1255,416.6 L1258.8,417.9 L1260.6,421.4 L1264.3,422.9 L1266.6,425.9"/><path d="M1270,415 L1273.9,413.7 L1278,414.6 L1282,413.3 L1286,413.8 L1290,413 L1293.9,412 L1297.9,411.4 L1302,412.3 L1306,411.8 L1310,411 L1313.4,413.5 L1317.2,415.2 L1321.4,416 L1324.7,418.6"/><path d="M1294,274 L1294.6,277.7 L1295.2,281.3 L1296.5,284.8 L1296.4,288.6 L1298,292 L1301.3,293.9 L1303.5,297.2 L1306.8,299.1 L1310,301 L1312.1,304 L1313.5,307.3 L1314,311 L1313.1,315 L1312.1,318.9 L1312.7,323.1 L1311.7,327.1 L1310.3,330.9 L1310,335 L1309.8,339.1 L1307.8,342.9 L1307.6,347 L1307.6,351.2 L1306,355 L1303.7,357.7 L1300.9,359.9 L1298.6,362.6 L1296,365 L1296.5,369.1 L1298.2,372.9 L1297.9,377.1 L1299.4,381 L1300,385 L1299.7,388.7 L1299.8,392.4 L1300.1,396.1 L1300.2,399.9 L1299.5,403.6 L1299.2,407.3 L1300,411"/><path d="M1318,357 L1319.1,360.8 L1321.1,364.2 L1323.1,367.6 L1325.1,371.1 L1326,375 L1325.6,379.1 L1326.4,383 L1326.6,387.1 L1327.9,391 L1328,395 L1327.3,398.9 L1326,402.7 L1325.8,406.7 L1325.6,410.7 L1325.6,414.7 L1324.7,418.6"/><path d="M1298,375 L1298.5,378.7 L1298,382.4 L1299.2,386 L1299,389.7 L1299.5,393.3 L1299.3,397.1 L1299.8,400.7 L1301.1,404.3 L1301.9,407.9 L1301.8,411.6 L1301.8,415.3 L1302,419 L1303.9,422.1 L1306,425 L1307,428.7 L1308.4,432.3 L1311.3,435.2 L1312,439 L1312.2,442.6 L1313,446.1 L1313.6,449.6 L1314.9,453 L1316.1,456.4 L1315.9,460.1 L1316.7,463.6 L1318,467 L1321.5,468.3 L1325,469.7 L1328.9,469.7 L1332.6,470.3 L1336,472"/><path d="M1400,105 L1399.4,108.7 L1398.5,112.4 L1399,116.3 L1398,120 L1394.3,121.6 L1390.6,123.3 L1387.7,126.4 L1384,128 L1382,134 L1383.8,137.4 L1385.7,140.8 L1388,144 L1388.9,147.4 L1390.2,150.7 L1391,154.2 L1391,157.8 L1391.8,161.3 L1393.2,164.6 L1394,168 L1396.1,171.1 L1396.3,175.1 L1397.8,178.5 L1400.2,181.5 L1401,185.2 L1401.9,188.8 L1404,192 L1404.5,196.2 L1406.4,200 L1407.6,204 L1408.6,208 L1410,212 L1413.7,214.2 L1417,216.9 L1420,220 L1420.9,224 L1420.3,228 L1421.2,232 L1421.2,236 L1421.8,240 L1422,244 L1424.4,247.2 L1427.3,250 L1429.9,253.1 L1430.9,257.3 L1434,260 L1435.9,263.2 L1438,266.3 L1438.8,270.1 L1440.2,273.6 L1442.9,276.4 L1444,280 L1446.6,282.5 L1449.5,284.5 L1452,287 L1455.2,288.7 L1457.9,291 L1460,294 L1460.5,298 L1462,301.6 L1464,305 L1467.2,307 L1470.3,309.1 L1473.8,310.6 L1476.5,313.4 L1480,315 L1481.5,319 L1481.9,323.3 L1484,327 L1485.6,330.7 L1487.5,334.3 L1489.3,337.9 L1492,341 L1494.8,343.2 L1497.6,345.4 L1499.9,348.1 L1502,351 L1503.2,354.9 L1504.1,358.9 L1504,363 L1507.8,361.2 L1512,361.1 L1516.2,360.6 L1520,359 L1524,358.3 L1528.1,358.5 L1532,357 L1535.4,358.9 L1539.4,358.7 L1542.7,360.8 L1546.5,361.6 L1550,363 L1553.8,365.1 L1556.2,369 L1560,371 L1562.4,374.8 L1563.9,379.1 L1566,383 L1565.3,387 L1564.4,390.9 L1564.5,395 L1564.6,399 L1564,403 L1560,405.1 L1556.3,407.5 L1552,409 L1550.2,413.8 L1550,419 L1547.3,421.5 L1546.4,425.3 L1544.7,428.5 L1542,431 L1543.4,434.9 L1544,439 L1545.6,442.9 L1546,447.2 L1548,451 L1552.1,451.3 L1556.1,450.8 L1559.9,449 L1564.1,449.9 L1568,449 L1568.4,452.7 L1569.3,456.3 L1569.5,460 L1572,463.2 L1572,467 L1573.6,470.3 L1573.6,474.1 L1574.2,477.7 L1576,481 L1571.9,482 L1568.1,484 L1564,485 L1560.5,485.3 L1556.9,485.5 L1553.6,487.2 L1550,487 L1547.2,489.7 L1544.3,492.3 L1541.4,495 L1538,497 L1534.3,498.2 L1530.7,499.9 L1527,500.9 L1523.3,502.2 L1519.3,502.4 L1516,504.7 L1512,505 L1508.3,504.6 L1504.7,505.5 L1501,505"/><path d="M1485,496 L1488.6,496.3 L1491.5,499 L1495.3,498.9 L1498.3,501.2 L1501.7,502.3 L1505,503.4 L1508.8,503.3 L1512,505"/><path d="M1444,280 L1442.1,284 L1440.6,288.3 L1438,292 L1438,295 L1436.8,298.9 L1436.6,302.9 L1436.6,307 L1436.5,311 L1436,315 L1434.3,319.1 L1431.5,322.7 L1430,327 L1428,330.4 L1425.8,333.5 L1424,337 L1423.3,340.6 L1421.8,343.9 L1420,347 L1418.3,350.5 L1415,352.8 L1412.9,355.9 L1411.2,359.4 L1407.8,361.6 L1406,365 L1403.6,367.6 L1400.8,369.8 L1398.4,372.5 L1395.6,374.6 L1392.3,376.2 L1390,379 L1387.5,381.9 L1385.1,384.8 L1382,387 L1379.6,389.9 L1376.2,391.8 L1374,395 L1371.4,397.9 L1367.5,399 L1365.5,402.6 L1361.6,403.8 L1358.8,406.4 L1356,409 L1354.1,412 L1351.4,414.4 L1349.3,417.3 L1347,420 L1344.7,422.7 L1342,425 L1343.2,428.4 L1343.2,432.2 L1344.1,435.7 L1346,439 L1343.8,442.7 L1343.7,447.3 L1341.9,451.1 L1340,455 L1338,458.8 L1338.1,463.3 L1336,467"/><path d="M1424,337 L1426.2,339.8 L1429.3,341.7 L1430.9,345.1 L1434,347 L1434.9,350.8 L1433.4,354.6 L1434.3,358.4 L1434.6,362.2 L1434.9,366 L1433.4,369.8 L1434,373.6 L1434.6,377.4 L1434.1,381.2 L1434,385 L1432.3,389.9 L1432,395 L1435.5,395.9 L1438.6,397.8 L1442.2,398.4 L1445.5,399.8 L1448.5,402.1 L1452,403 L1454.1,406.4 L1457.2,409.1 L1459.8,412.1 L1462.2,415.4 L1464,419 L1462.3,422.9 L1461,427 L1459.9,431.1 L1458,435 L1454.6,436.5 L1450.9,436.8 L1447.4,437.6 L1444,439 L1440.8,441 L1438.3,443.7 L1435.9,446.6 L1433.3,449.2 L1430,451"/><path d="M1432,383 L1428.7,385.2 L1426.1,388.1 L1422.7,390.2 L1420,393 L1417.8,396.4 L1414,398.2 L1411.8,401.6 L1408.4,403.8 L1406,407 L1402.4,408 L1399.3,410.2 L1396.3,412.6 L1392.3,412.7 L1389.3,415 L1385.9,416.6"/><path d="M1420,393 L1421.4,396.8 L1424.4,399.8 L1426.5,403.2 L1428,407 L1426.7,410.9 L1426.9,415 L1426.6,419.1 L1425.6,423 L1424.5,427 L1424,431 L1424.4,435.5 L1423,439.9 L1422.6,444.3"/><path d="M1388,387 L1387.8,390.6 L1387.5,394.2 L1387.9,397.9 L1386.6,401.5 L1386.2,405.1 L1385.8,408.7 L1386.6,412.4 L1386,416"/><path d="M1460,443 L1461.3,446.4 L1463.4,449.3 L1464.4,452.8 L1467.1,455.4 L1468,459 L1471.8,461.1 L1475.7,462.8 L1480,463.5 L1484,465 L1486.6,468.3 L1489.3,471.7 L1492,475 L1491.3,478.5 L1491.5,482.2 L1489.2,485.3 L1489.8,489.1 L1489.2,492.6 L1488,496 L1491.7,497.7 L1494.8,500.1 L1497.4,503.2 L1501,505"/><path d="M1547,559 L1545.7,563.1 L1543.6,566.8 L1540.7,570.1 L1539,574 L1541,577.3 L1542.8,580.7 L1543.3,584.6 L1545,588 L1544.2,592 L1543.6,596 L1543,600 L1546.1,603 L1550.1,604.8 L1553,608 L1553.9,613.2 L1556,618 L1559.8,620.3 L1564.4,621.3 L1568,624 L1570.6,627.3 L1572,631.3 L1574,635 L1575.2,640 L1576.5,645 L1577.5,648.4 L1578.4,651.9 L1578.5,655.5 L1579,659 L1579.7,663 L1578.8,667 L1578.4,671 L1579,675 L1578.4,679.7 L1576.5,684 L1578.5,687.6 L1580.4,691.2 L1583.4,694.2 L1585,698 L1588.3,701.1 L1591.9,704 L1596,706 L1599.1,708.9 L1602,712 L1605.7,711.9 L1609.3,712.6 L1613,712 L1613.9,708 L1614.5,704 L1615.5,700 L1615.4,695.4 L1614.3,690.9 L1613,686.5 L1611.6,682.5 L1610.3,678.4 L1609.3,674.2 L1608.5,670 L1607.7,666.4 L1608.1,662.7 L1607.1,659.2 L1606.7,655.6 L1605.8,652 L1605.3,648.5 L1604,645 L1602.6,640.9 L1602.8,636.5 L1603,632.1 L1601.6,628 L1601.2,624.4 L1598.9,621.3 L1598.1,617.8 L1597.3,614.3 L1596,611 L1592.4,610.5 L1589,609.4 L1585.3,609.5 L1582,608 L1578.5,607.6 L1575,607 L1575,603 L1574.1,599 L1575,595 L1575.9,591 L1578.8,587.8 L1580,583.9 L1581,580 L1582.2,576.5 L1582,572.8 L1582.8,569.3 L1583.3,565.7 L1583,562 L1579.7,559.1 L1575.2,558 L1572,555 L1568,554.7 L1564,555.4 L1560,555 L1555.6,556 L1551.5,558.1 L1547,559"/><path d="M1568,624 L1569.9,627.4 L1571.3,631.1 L1574,634 L1577.5,634 L1581,633.1 L1584.5,633.3 L1588,633 L1591.3,631.2 L1595,630.4 L1598,628"/></g>
<g stroke="#5a4020" stroke-opacity="0.035" stroke-width="3" stroke-dasharray="21 20" fill="none"><path d="M152,286.5 L1733,286.5"/><path d="M152,467.7 L1733,467.7"/><path d="M152,648.9 L1733,648.9"/><path d="M152,830.1 L1733,830.1"/><path d="M547,105 L547,920"/><path d="M942.5,105 L942.5,920"/><path d="M1338,105 L1338,920"/></g>
<path d="M350,922 L370,869 L377.5,831.5 L373.75,794 L362.5,744 L357.5,721 L363.75,695 L375,670 L393.75,645 L410,630 L435,615 L452.5,602.5 L486,586 L500,580 L516,568 L532,556 L538,550 L563,530 L570,518 L588,510 L601,503 L619,497.6 L635,496 L645.5,489.6 L662.5,487.5 L687.5,488.75 L725,497.5 L740,505.3 L760.9,507.4 L773.5,503.2 L771.4,491.4 L774.9,486.5 L788.8,483 L797.2,484.4 L799.3,487.9 L813.2,491.4 L816.7,498.4 L820.2,507.4 L837.6,510.2 L843.2,513 L848.1,522.8 L851.6,530 L857.5,538.75 L875,545 L889,542.5 L897.9,533.5 L909.9,529.8 L918.8,533.5 L923.3,550 L935.3,542.5 L939,521.6 L935.3,515.6 L926.3,509.6 L929.3,508.1 L947.2,515.6 L960.7,524.6 L965.2,530.5 L981.6,536.5 L990.5,548.5 L996.5,544 L1008.5,554.4 L1020.4,542.5 L1007,527.6 L984.6,521.6 L972.6,512.6 L963.7,502.2 L969.6,494.7 L984.6,484.2 L990.5,487.2 L993.5,476.8 L984.6,461.8 L977.1,469.3 L971.1,478.3 L960.7,475.3 L955.4,467.8 L963.7,461.8 L969.6,454.4 L975.6,451.4 L987.6,446.9 L995,437.9 L1011.5,434.9 L1023.4,430.5 L1038.4,433.4 L1060,435 L1075,434 L1090,436 L1100,446 L1150,437.5 L1175,433.75 L1200,430 L1220,425 L1235,432.5 L1255,442.5 L1275,455 L1290,463.75 L1302.5,477.5 L1306.25,493.75 L1312.5,497.5 L1330,492.5 L1350,487.5 L1370,477.5 L1385,470 L1390,462.5 L1407.5,460 L1425,465 L1440,477.5 L1455,492.5 L1465,510 L1482.5,530 L1500,542.5 L1512.5,552.5 L1520,567.5 L1522,582.5 L1523.5,600 L1518,614 L1511,635 L1508,658.6 L1511,669.7 L1518,678 L1523.5,679.5 L1526.3,683.7 L1523.5,697.6 L1530.4,711.6 L1536,722 L1541.8,738 L1551.7,753.9 L1561.7,758.9 L1561.7,747.9 L1571.7,743.9 L1567.7,767.8 L1573.6,781.8 L1583.6,787.7 L1587.6,805.7 L1593.6,827.6 L1603.5,837.6 L1621.5,845.5 L1631.4,863.5 L1641.4,891.3 L1645.4,907.3 L1659.3,907.3 L1679.2,903.3 L1699.2,895.3 L1709.1,873.4 L1719.1,843.5 L1725.1,809.7 L1729,779.8 L1725,741.4 L1717,709.5 L1704.3,671.2 L1691.6,633 L1691.6,607.5 L1682,585 L1662.9,559.7 L1643.7,511.9 L1632.6,480 L1627,460 L1619.9,430 L1612.7,397.7 L1616.3,372.6 L1627,351 L1637.8,326 L1645,300.9 L1663,286.5 L1679,265 L1695.2,250.6 L1709.5,236.3 L1731,231 L1736,231 L1736,922 Z" fill="#cff3f9" stroke="#a9b3b5" stroke-width="1.2"/>
<g fill="#cff3f9" stroke="#a3acae" stroke-width="1.2"><path d="M486,587 L468,589 L452,588 L436,583 L432,582 L434,592 L424,589 L419,585 L423.5,592 L423.5,601 L430,607.5 L433,609 L414,617 L404,611 L406,623.5 L401,633 L394.5,629.4 L387.4,634.2 L375.4,634.2 L374.2,640.2 L385,642.6 L380.2,652.1 L371.8,661.7 L351.5,661.7 L359.9,671.3 L365.9,680.8 L363,700 L362,718 L355,719 L340,714 L330,699 L336,712 L350,734 L345,744 L350,764 L357.5,789 L362.5,809 L370,829 L372.5,829 L365,794 L360,756.5 L358.5,721 L360.5,705 L365.5,688 L372.5,673 L384.5,656 L396.5,643 L411.5,630 L434.5,615 L460,600.5 L486,589 Z"/><path d="M537,546 L554,526 L543.3,497.6 L544.2,494.1 L552.3,495 L564.8,488.7 L569.3,494.1 L566.6,506.6 L573.8,508.4 L586.3,509.3 L570,516 L562,524 L548,536 Z"/><path d="M634.7,469.9 L641.9,469.9 L642.8,478 L636.5,486.9 L631.1,485.1 L630.2,480.6 Z"/><path d="M775,486 L790,484 L808,486 L812,494 L800,496 L780,495 Z"/><path d="M909.9,457.3 L915,445 L923.3,433.4 L936.8,436.4 L945.7,443.9 L966.6,452.9 L960.7,458.8 L939.8,464.8 L921.8,464.8 L911.4,460.3 Z"/><path d="M1086,440 L1092,425 L1097,408 L1103,406 L1107,420 L1112,433 L1120,441 L1104,446 Z"/><path d="M1163,433 L1168,421 L1177,419 L1182,414 L1186,424 L1181,432 Z"/><path d="M1667,578 L1678,590 L1690,612 L1703,650 L1716,700 L1722,726 L1719,727 L1708,692 L1695,652 L1683,617 L1671,594 Z"/><path d="M1523.5,679.5 L1527,683 L1531,671 L1536,660 L1545,652 L1546,640 L1543,630 L1538,626 L1532,632 L1527,645 L1526,660 L1523.5,672.5 L1521,678 Z"/></g><g fill="#d9c2a1" stroke="#8f8a80" stroke-width="1.2"><path d="M783,505 L792,500 L803,507 L799,513 L786,509 Z"/></g><g fill="none" stroke="#a3acae" stroke-width="1.6"><path d="M1098,447 L1140,440 L1180,434 L1210,431"/><path d="M1232,432 L1260,442 L1280,452"/><path d="M1305,478 L1306,490 L1312,495"/></g>
<g fill="#8cacec" stroke="#1c2338" stroke-width="2.5">
<circle cx="295.5" cy="610.4" r="11.9"/>
<circle cx="352" cy="842" r="11.9"/>
<circle cx="357.8" cy="589.8" r="11.9"/>
<circle cx="366.5" cy="622.2" r="11.9"/>
<circle cx="387" cy="576.7" r="11.9"/>
<circle cx="412.5" cy="562.4" r="11.9"/>
<circle cx="423.8" cy="555.6" r="11.9"/>
<circle cx="468" cy="578.6" r="11.9"/>
<circle cx="475.9" cy="529.9" r="11.9"/>
<circle cx="500.6" cy="525.9" r="11.9"/>
<circle cx="521.3" cy="524.3" r="11.9"/>
<circle cx="501.4" cy="488.4" r="11.9"/>
<circle cx="514.9" cy="495.6" r="11.9"/>
<circle cx="515.7" cy="486.9" r="11.9"/>
<circle cx="558.7" cy="428.7" r="11.9"/>
<circle cx="618.5" cy="435.1" r="11.9"/>
</g>
<g fill="#7ed377" stroke="#1a3a15" stroke-width="2.5">
<circle cx="645.6" cy="439.8" r="11.9"/>
<circle cx="711.8" cy="421.5" r="11.9"/>
<circle cx="738" cy="449.7" r="11.9"/>
<circle cx="831.8" cy="398.8" r="11.9"/>
<circle cx="875.2" cy="437.4" r="11.9"/>
<circle cx="846.5" cy="494.7" r="11.9"/>
<circle cx="950.1" cy="412.2" r="11.9"/>
<circle cx="956.7" cy="395.1" r="11.9"/>
<circle cx="999.5" cy="423.2" r="11.9"/>
<circle cx="1039.2" cy="387.7" r="11.9"/>
<circle cx="1090.2" cy="308.1" r="11.9"/>
<circle cx="1138.9" cy="327" r="11.9"/>
</g>
<g fill="#dd8b80" stroke="#3b2418" stroke-width="2.5">
<circle cx="1160.8" cy="379.3" r="11.9"/>
<circle cx="1144.6" cy="404.6" r="11.9"/>
<circle cx="1202.7" cy="373.8" r="11.9"/>
<circle cx="1208.8" cy="399.7" r="11.9"/>
<circle cx="1266.6" cy="425.9" r="11.9"/>
<circle cx="1324.7" cy="418.6" r="11.9"/>
<circle cx="1336.4" cy="471.7" r="11.9"/>
<circle cx="1385.9" cy="416.6" r="11.9"/>
<circle cx="1404.7" cy="443" r="11.9"/>
<circle cx="1422.6" cy="444.3" r="11.9"/>
<circle cx="1430" cy="451.6" r="11.9"/>
<circle cx="1451.3" cy="461.4" r="11.9"/>
<circle cx="1470.4" cy="486.4" r="11.9"/>
<circle cx="1501" cy="504.7" r="11.9"/>
<circle cx="1538.2" cy="552.7" r="11.9"/>
<circle cx="1547" cy="558.9" r="11.9"/>
<circle cx="1522.3" cy="628.2" r="11.9"/>
<circle cx="1530.6" cy="643.2" r="11.9"/>
<circle cx="1556.4" cy="634.9" r="11.9"/>
<circle cx="1558" cy="660.7" r="11.9"/>
<circle cx="1546.4" cy="679" r="11.9"/>
<circle cx="1573.8" cy="694.8" r="11.9"/>
<circle cx="1558" cy="696.4" r="11.9"/>
<circle cx="1549.7" cy="719.4" r="11.9"/>
<circle cx="1584.6" cy="720.6" r="11.9"/>
<circle cx="1599.3" cy="765" r="11.9"/>
</g>
</g>
<rect x="152.5" y="105.3" width="1580.5" height="814.7" fill="none" stroke="#333" stroke-width="2.8"/>
<text x="10" y="123" font-size="53" fill="#4d4d4d" transform="translate(-2.44,1.69) scale(1.0196,0.9895)">34°N</text>
<text x="10" y="304" font-size="53" fill="#4d4d4d" transform="translate(-2.20,-0.40) scale(1.0170,1.0053)">32°N</text>
<text x="10" y="485" font-size="53" fill="#4d4d4d" transform="translate(-2.20,-1.15) scale(1.0170,1.0053)">30°N</text>
<text x="10" y="666" font-size="53" fill="#4d4d4d" transform="translate(-3.34,-1.91) scale(1.0261,1.0053)">28°N</text>
<text x="10" y="847" font-size="53" fill="#4d4d4d" transform="translate(-3.34,-2.66) scale(1.0261,1.0053)">26°N</text>
<text x="76" y="984" font-size="53" fill="#4d4d4d" transform="translate(-2.53,-17.63) scale(0.9903,1.0184)">100°W</text>
<text x="490" y="984" font-size="53" fill="#4d4d4d" transform="translate(-4.44,-12.45) scale(1.0039,1.0132)">95°W</text>
<text x="885" y="984" font-size="53" fill="#4d4d4d" transform="translate(-9.49,-12.45) scale(1.0079,1.0132)">90°W</text>
<text x="1281" y="984" font-size="53" fill="#4d4d4d" transform="translate(8.02,-12.45) scale(0.9922,1.0132)">85°W</text>
<text x="1676" y="984" font-size="53" fill="#4d4d4d" transform="translate(1.42,-12.45) scale(0.9984,1.0132)">80°W</text>
<g stroke="#333" stroke-width="2.7">
<line x1="138.5" y1="105.3" x2="152" y2="105.3"/>
<line x1="138.5" y1="286.5" x2="152" y2="286.5"/>
<line x1="138.5" y1="467.7" x2="152" y2="467.7"/>
<line x1="138.5" y1="648.9" x2="152" y2="648.9"/>
<line x1="138.5" y1="830.1" x2="152" y2="830.1"/>
<line x1="152" y1="920" x2="152" y2="934"/>
<line x1="547" y1="920" x2="547" y2="934"/>
<line x1="942.5" y1="920" x2="942.5" y2="934"/>
<line x1="1338" y1="920" x2="1338" y2="934"/>
<line x1="1733" y1="920" x2="1733" y2="934"/>
</g>
<text x="1817" y="319" font-size="53" fill="#000" transform="translate(-16.07,-2.77) scale(1.0067,1.0103)">Location</text>
<g stroke-width="2.7">
<circle cx="1847" cy="413.8" r="12.1" fill="#e49a96" stroke="#3d2222"/>
<circle cx="1847" cy="551.1" r="12.1" fill="#86dc86" stroke="#253d25"/>
<circle cx="1847" cy="688.6" r="12.1" fill="#98b4f0" stroke="#2a3550"/>
</g>
<text x="1912" y="431" font-size="49" fill="#000" transform="translate(22.80,-27.73) scale(0.9862,1.0667)">East</text>
<text x="1912" y="569" font-size="49" fill="#000" transform="translate(12.96,-6.00) scale(0.9912,1.0114)">North</text>
<text x="1910" y="707" font-size="49" fill="#000" transform="translate(41.37,-47.13) scale(0.9782,1.0667)">West</text>
</svg>
</body></html>
